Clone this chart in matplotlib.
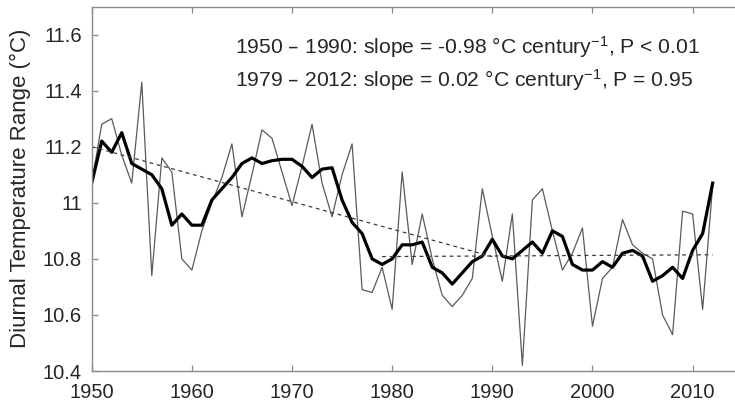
import numpy as np
import matplotlib
matplotlib.use("Agg")
import matplotlib.pyplot as plt
from matplotlib.ticker import FormatStrFormatter

# --- DATA ---
years = np.arange(1950, 2013)

# annual diurnal temperature range (deg C)
dtr_annual = [
    11.07, 11.28, 11.30, 11.17, 11.07, 11.43, 10.74, 11.16, 11.11, 10.80,
    10.76, 10.90, 11.00, 11.09, 11.21, 10.95, 11.10, 11.26, 11.23, 11.11,
    10.99, 11.13, 11.28, 11.07, 10.95, 11.10, 11.21, 10.69, 10.68, 10.77,
    10.62, 11.11, 10.78, 10.96, 10.80, 10.67, 10.63, 10.67, 10.73, 11.05,
    10.88, 10.72, 10.96, 10.42, 11.01, 11.05, 10.90, 10.76, 10.82, 10.91,
    10.56, 10.73, 10.77, 10.94, 10.85, 10.82, 10.80, 10.60, 10.53, 10.97,
    10.96, 10.62, 11.06,
]

# smoothed series
dtr_smooth = [
    11.07, 11.22, 11.18, 11.25, 11.14, 11.12, 11.10, 11.05, 10.92, 10.96,
    10.92, 10.92, 11.01, 11.05, 11.09, 11.14, 11.16, 11.14, 11.15, 11.155,
    11.155, 11.13, 11.09, 11.12, 11.125, 11.01, 10.93, 10.89, 10.80, 10.78,
    10.80, 10.85, 10.85, 10.86, 10.77, 10.75, 10.71, 10.75, 10.79, 10.81,
    10.87, 10.81, 10.80, 10.83, 10.86, 10.82, 10.90, 10.88, 10.78, 10.76,
    10.76, 10.79, 10.77, 10.82, 10.83, 10.81, 10.72, 10.74, 10.77, 10.73,
    10.83, 10.89, 11.07,
]

# linear trends: (start, end, slope in degC per century, value at start)
TREND_1 = (1950, 1990, -0.98, 11.20)
TREND_2 = (1979, 2012, 0.02, 10.808)

LABEL_1 = "1950 \u2013 1990: slope = -0.98 \u00b0C century$^{-1}$, P < 0.01"
LABEL_2 = "1979 \u2013 2012: slope = 0.02 \u00b0C century$^{-1}$, P = 0.95"

plt.rcParams["font.family"] = ["Liberation Sans", "DejaVu Sans"]
plt.rcParams["mathtext.default"] = "regular"

AXIS_GREY = "#8a8a8a"
TEXT_DARK = "#262626"


def trend_line(spec):
    y0, y1, slope, start_val = spec
    yrs = np.array([y0, y1])
    return yrs, start_val + slope / 100.0 * (yrs - y0)


fig = plt.figure(figsize=(7.35, 4.09), dpi=100)
# axes box runs past the right edge of the figure, so the right spine is cut off
ax = fig.add_axes([91.7 / 735, 1 - 371 / 409, 651 / 735, 364.5 / 409])

ax.plot(years, dtr_annual, color="#5a5a5a", lw=0.9)
ax.plot(years, dtr_smooth, color="black", lw=2.3)

for spec in (TREND_1, TREND_2):
    tx, ty = trend_line(spec)
    ax.plot(tx, ty, color="#3a3a3a", lw=0.9, ls=(0, (3, 3)))

ax.set_xlim(1950, 2015)
ax.set_ylim(10.4, 11.7)
ax.set_xticks(np.arange(1950, 2011, 10))
ax.set_yticks(np.arange(10.4, 11.61, 0.2))
ax.yaxis.set_major_formatter(FormatStrFormatter("%g"))

ax.tick_params(direction="in", length=4, width=0.9, color=AXIS_GREY,
               labelsize=14.5, labelcolor=TEXT_DARK, top=True, right=True)
ax.tick_params(axis="x", pad=8.5)
ax.tick_params(axis="y", pad=7)
for sp in ax.spines.values():
    sp.set_color(AXIS_GREY)
    sp.set_linewidth(1.0)

ax.set_ylabel("Diurnal Temperature Range (\u00b0C)", fontsize=16, color=TEXT_DARK)
ax.yaxis.set_label_coords(-0.093, 0.5)

ax.text(1964.3, 11.533, LABEL_1, fontsize=15.2, color=TEXT_DARK, va="baseline")
ax.text(1964.3, 11.414, LABEL_2, fontsize=15.2, color=TEXT_DARK, va="baseline")

fig.savefig("out.png", dpi=100)
